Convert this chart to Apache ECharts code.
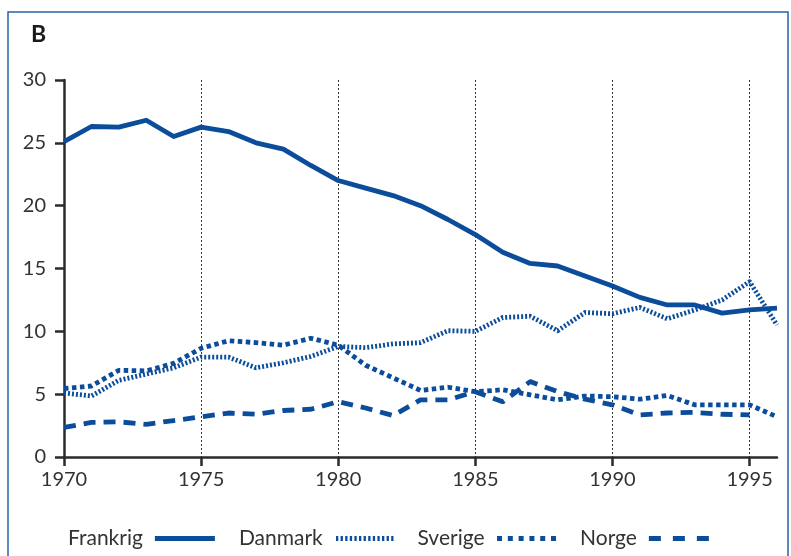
<!DOCTYPE html>
<html><head><meta charset="utf-8">
<script src="https://cdn.jsdelivr.net/npm/echarts@6/dist/echarts.min.js"></script>
<style>html,body{margin:0;padding:0;background:#fff}#c{width:791px;height:556px}</style>
</head><body><div id="c"></div>
<script>
const years = [1970,1971,1972,1973,1974,1975,1976,1977,1978,1979,1980,1981,1982,1983,1984,1985,1986,1987,1988,1989,1990,1991,1992,1993,1994,1995,1996].map(String);
const frankrig = [25.1,26.3,26.25,26.8,25.5,26.25,25.9,25.0,24.5,23.2,22.0,21.4,20.8,20.0,18.9,17.7,16.3,15.4,15.2,14.4,13.6,12.7,12.1,12.1,11.45,11.7,11.85];
const danmark  = [5.1,4.85,6.1,6.6,7.1,7.95,7.95,7.1,7.5,8.0,8.8,8.7,9.0,9.1,10.05,10.0,11.1,11.2,10.05,11.5,11.4,11.9,11.0,11.7,12.5,13.95,10.5];
const sverige  = [5.45,5.65,6.9,6.85,7.45,8.65,9.25,9.1,8.9,9.45,8.9,7.3,6.3,5.3,5.55,5.2,5.35,4.95,4.55,4.85,4.8,4.6,4.9,4.15,4.15,4.15,3.2];
const norge    = [2.35,2.75,2.8,2.6,2.9,3.2,3.5,3.4,3.7,3.8,4.4,3.9,3.3,4.55,4.55,5.2,4.4,6.0,5.2,4.6,4.15,3.35,3.5,3.55,3.4,3.35,null];
const yTicks = [0,5,10,15,20,25,30];
const names = ['Frankrig','Danmark','Sverige','Norge'];

const blue = '#0b4c9b';
const font = 'Lato, "Open Sans", sans-serif';

// legend icon paths (patterns of little bars)
function bars(n, w, period, h){
  let p = 'path://';
  for (let i=0;i<n;i++){ const x=(i*period).toFixed(2); p += 'M'+x+',0h'+w+'v'+h+'h-'+w+'Z'; }
  return p;
}
const icons = [
  'path://M0,0H60V5H0Z',
  bars(13, 2.3, 4.6, 5),
  bars(6, 5, 10.8, 5),
  bars(3, 12, 24, 5)
];

const chart = echarts.init(document.getElementById('c'), null, {renderer:'canvas'});
function mk(name, data, dash){
  return {name, type:'line', data, symbol:'none', connectNulls:false,
    lineStyle:{color:blue, width:4.8, type:dash, cap:'butt', join:'round'},
    itemStyle:{color:blue}, animation:false};
}
chart.setOption({
  animation:false,
  graphic:[
    {type:'rect', shape:{x:8,y:12,width:780,height:560}, style:{fill:'none', stroke:'#2a63ab', lineWidth:1.5}, z:0},
    {type:'text', left:31, top:23, style:{text:'B', font:'bold 23px '+font, fill:'#1a1a1a'}}
  ],
  grid:{left:64, top:80, right:14, bottom:99, containLabel:false},
  legend:{left:63, top:523, align:'right', itemWidth:60, itemHeight:5, itemGap:24,
    textStyle:{fontSize:21, color:'#333', fontFamily:font, padding:[0,7,0,0]},
    data:names.map((n,i)=>({name:n, icon:icons[i], itemStyle:{color:blue, borderWidth:0}}))},
  xAxis:{type:'category', data:years, boundaryGap:false,
    axisLine:{lineStyle:{color:'#2b2b2b', width:2.5}},
    axisTick:{interval:4, length:9, lineStyle:{color:'#2b2b2b', width:2.5}},
    axisLabel:{interval:4, fontSize:20, color:'#333', fontFamily:font, margin:13},
    splitLine:{show:true, interval:4, lineStyle:{color:'#333', width:1, type:[2,2]}}
  },
  yAxis:{type:'value', min:yTicks[0], max:yTicks[yTicks.length-1], interval:5,
    axisLine:{show:true, lineStyle:{color:'#2b2b2b', width:2.5}},
    axisTick:{show:true, length:9, lineStyle:{color:'#2b2b2b', width:2.5}},
    axisLabel:{fontSize:20, color:'#333', fontFamily:font, margin:18},
    splitLine:{show:false}
  },
  series:[
    mk(names[0], frankrig, 'solid'),
    mk(names[1], danmark, [2,2]),
    mk(names[2], sverige, [4.5,3.5]),
    mk(names[3], norge, [12,8])
  ]
});
</script></body></html>
